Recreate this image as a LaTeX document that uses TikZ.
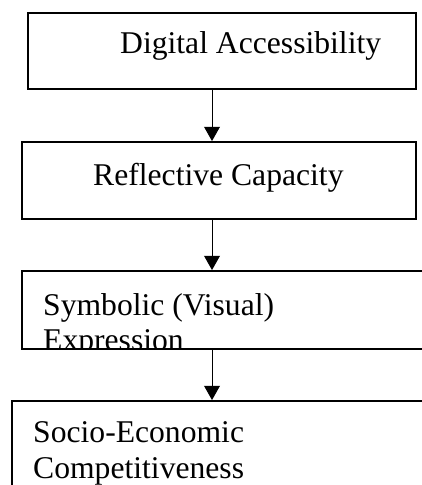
\documentclass[tikz,border=0pt]{standalone}
\usepackage{fontspec}
\setmainfont{Liberation Serif}
\usetikzlibrary{arrows.meta}

\begin{document}
\begin{tikzpicture}[
    stagebox/.style={draw, line width=1.8pt, inner sep=0pt},
    stagetext/.style={anchor=base west, inner sep=0pt, align=left, font=\fontsize{30pt}{34pt}\selectfont},
    flow/.style={-{Triangle[width=15pt,length=13.5pt]}, line width=0.9pt}]
    \useasboundingbox (0,0) rectangle (14.067,16.167);
    \clip (0,0) rectangle (14.067,16.167);

    % boxes, top to bottom
    \node[stagebox, minimum width=12.933cm, minimum height=2.533cm] (access) at (7.4,14.467) {};
    \node[stagebox, minimum width=13.133cm, minimum height=2.567cm] (reflect) at (7.3,10.15) {};
    \node[stagebox, minimum width=13.6cm, minimum height=2.6cm] (symbol) at (7.533,5.833) {};
    \node[stagebox, minimum width=14.267cm, minimum height=3.3cm] (socio) at (7.533,1.15) {};

    % base of the last line
    \node[stagetext] (accessTxt) at (4.0,14.367) {Digital Accessibility};
    \node[stagetext] (reflectTxt) at (3.1,10.0) {Reflective Capacity};
    \begin{scope}
        \clip (symbol.south west) rectangle (symbol.north east);
        \node[stagetext] (symbolTxt) at (1.433,4.467) {Symbolic (Visual)\\Expression};
    \end{scope}
    \node[stagetext] (socioTxt) at (1.1,0.233) {Socio-Economic\\Competitiveness};

    % arrows
    \coordinate (axis) at (7.067,0);
    \draw[flow] (access.south -| axis) -- (reflect.north -| axis);
    \draw[flow] (reflect.south -| axis) -- (symbol.north -| axis);
    \draw[flow] (symbol.south -| axis) -- (socio.north -| axis);
\end{tikzpicture}
\end{document}
